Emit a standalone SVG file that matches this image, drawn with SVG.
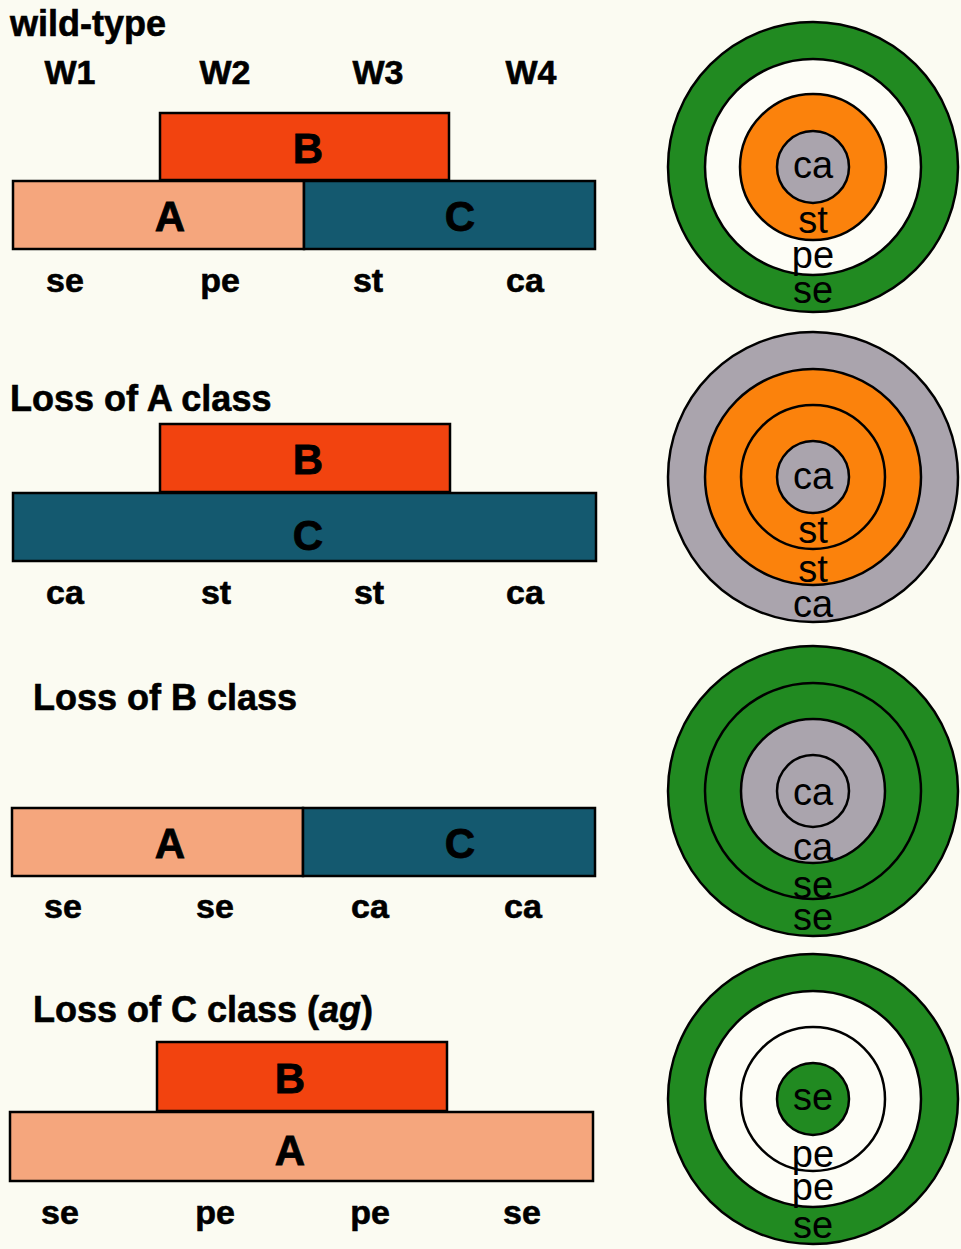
<svg xmlns="http://www.w3.org/2000/svg" width="961" height="1249" viewBox="0 0 961 1249">
  <style>
    .title { font-family: "Liberation Sans", Arial, sans-serif; font-weight: bold; font-size: 36px; fill: #000; stroke: #000; stroke-width: 0.6; }
    .lbl { font-family: "Liberation Sans", Arial, sans-serif; font-weight: bold; font-size: 34px; fill: #000; stroke: #000; stroke-width: 0.6; text-anchor: middle; }
    .bar { stroke: #000; stroke-width: 2.5; }
    .barTxt { font-family: "Liberation Sans", Arial, sans-serif; font-weight: bold; font-size: 42px; fill: #000; stroke: #000; stroke-width: 0.8; text-anchor: middle; }
    .ring { stroke: #000; stroke-width: 2.5; }
    .organ { font-family: "Liberation Sans", Arial, sans-serif; font-size: 38px; fill: #000; text-anchor: middle; }
    .fA { fill: #f5a67d; }
    .fB { fill: #f2430f; }
    .fC { fill: #14596f; }
    .green { fill: #218a21; }
    .orange { fill: #fb820c; }
    .grey { fill: #aaa4ad; }
    .white { fill: #fdfdf6; }
  </style>
  <rect width="961" height="1249" fill="#fbfbf2"/>

  <!-- Wild type -->
  <g id="wild-type">
    <text class="title" x="10" y="36">wild-type</text>
    <text class="lbl" x="70" y="84">W1</text>
    <text class="lbl" x="225" y="84">W2</text>
    <text class="lbl" x="378" y="84">W3</text>
    <text class="lbl" x="531" y="84">W4</text>
    <rect class="bar fB" x="160" y="113" width="289" height="67"/>
    <rect class="bar fA" x="13" y="181" width="291" height="68"/>
    <rect class="bar fC" x="304" y="181" width="291" height="68"/>
    <text class="barTxt" x="308" y="163">B</text>
    <text class="barTxt" x="170" y="231">A</text>
    <text class="barTxt" x="460" y="231">C</text>
    <text class="lbl" x="65" y="292">se</text>
    <text class="lbl" x="220" y="292">pe</text>
    <text class="lbl" x="368" y="292">st</text>
    <text class="lbl" x="525" y="292">ca</text>
  </g>
  <g id="flower-wild-type">
    <circle class="ring green" cx="813" cy="167" r="145"/>
    <circle class="ring white" cx="813" cy="167" r="108"/>
    <circle class="ring orange" cx="813" cy="167" r="73"/>
    <circle class="ring grey" cx="813" cy="167" r="36"/>
    <text class="organ" x="813" y="178">ca</text>
    <text class="organ" x="813" y="233">st</text>
    <text class="organ" x="813" y="268">pe</text>
    <text class="organ" x="813" y="303">se</text>
  </g>

  <!-- Loss of A -->
  <g id="loss-a">
    <text class="title" x="10" y="411">Loss of A class</text>
    <rect class="bar fB" x="160" y="424" width="290" height="68"/>
    <rect class="bar fC" x="13" y="493" width="583" height="68"/>
    <text class="barTxt" x="308" y="474">B</text>
    <text class="barTxt" x="308" y="550">C</text>
    <text class="lbl" x="65" y="604">ca</text>
    <text class="lbl" x="216" y="604">st</text>
    <text class="lbl" x="369" y="604">st</text>
    <text class="lbl" x="525" y="604">ca</text>
  </g>
  <g id="flower-loss-a">
    <circle class="ring grey" cx="813" cy="477" r="145"/>
    <circle class="ring orange" cx="813" cy="477" r="108"/>
    <circle class="ring orange" cx="813" cy="477" r="72"/>
    <circle class="ring grey" cx="813" cy="477" r="36"/>
    <text class="organ" x="813" y="489">ca</text>
    <text class="organ" x="813" y="543">st</text>
    <text class="organ" x="813" y="582">st</text>
    <text class="organ" x="813" y="617">ca</text>
  </g>

  <!-- Loss of B -->
  <g id="loss-b">
    <text class="title" x="33" y="710">Loss of B class</text>
    <rect class="bar fA" x="12" y="808" width="291" height="68"/>
    <rect class="bar fC" x="303" y="808" width="292" height="68"/>
    <text class="barTxt" x="170" y="858">A</text>
    <text class="barTxt" x="460" y="858">C</text>
    <text class="lbl" x="63" y="918">se</text>
    <text class="lbl" x="215" y="918">se</text>
    <text class="lbl" x="370" y="918">ca</text>
    <text class="lbl" x="523" y="918">ca</text>
  </g>
  <g id="flower-loss-b">
    <circle class="ring green" cx="813" cy="791" r="145"/>
    <circle class="ring green" cx="813" cy="791" r="108"/>
    <circle class="ring grey" cx="813" cy="791" r="72"/>
    <circle class="ring grey" cx="813" cy="791" r="36"/>
    <text class="organ" x="813" y="805">ca</text>
    <text class="organ" x="813" y="860">ca</text>
    <text class="organ" x="813" y="898">se</text>
    <text class="organ" x="813" y="930">se</text>
  </g>

  <!-- Loss of C -->
  <g id="loss-c">
    <text class="title" x="33" y="1022">Loss of C class (<tspan font-style="italic">ag</tspan>)</text>
    <rect class="bar fB" x="157" y="1042" width="290" height="69"/>
    <rect class="bar fA" x="10" y="1112" width="583" height="69"/>
    <text class="barTxt" x="290" y="1093">B</text>
    <text class="barTxt" x="290" y="1165">A</text>
    <text class="lbl" x="60" y="1224">se</text>
    <text class="lbl" x="215" y="1224">pe</text>
    <text class="lbl" x="370" y="1224">pe</text>
    <text class="lbl" x="522" y="1224">se</text>
  </g>
  <g id="flower-loss-c">
    <circle class="ring green" cx="813" cy="1099" r="145"/>
    <circle class="ring white" cx="813" cy="1099" r="108"/>
    <circle class="ring white" cx="813" cy="1099" r="72"/>
    <circle class="ring green" cx="813" cy="1099" r="36"/>
    <text class="organ" x="813" y="1110">se</text>
    <text class="organ" x="813" y="1167">pe</text>
    <text class="organ" x="813" y="1200">pe</text>
    <text class="organ" x="813" y="1238">se</text>
  </g>
</svg>
